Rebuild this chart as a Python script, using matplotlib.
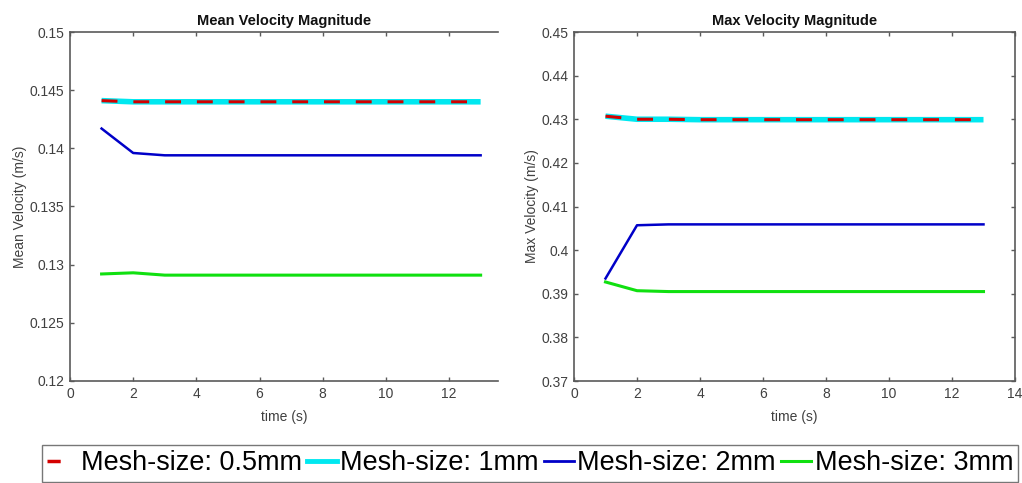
import matplotlib
matplotlib.use("Agg")
import matplotlib.pyplot as plt
from matplotlib.lines import Line2D

plt.rcParams['font.family'] = ['Liberation Sans', 'DejaVu Sans']

time = [1, 2, 3, 4, 5, 6, 7, 8, 9, 10, 11, 12, 13]

labels = ["Mesh-size: 0.5mm", "Mesh-size: 1mm", "Mesh-size: 2mm", "Mesh-size: 3mm"]

mean_05 = [0.1441, 0.1440, 0.1440, 0.1440, 0.1440, 0.1440, 0.1440, 0.1440, 0.1440, 0.1440, 0.1440, 0.1440, 0.1440]
mean_1 = [0.1441, 0.1440, 0.1440, 0.1440, 0.1440, 0.1440, 0.1440, 0.1440, 0.1440, 0.1440, 0.1440, 0.1440, 0.1440]
mean_2 = [0.1417, 0.1396, 0.1394, 0.1394, 0.1394, 0.1394, 0.1394, 0.1394, 0.1394, 0.1394, 0.1394, 0.1394, 0.1394]
mean_3 = [0.1292, 0.1293, 0.1291, 0.1291, 0.1291, 0.1291, 0.1291, 0.1291, 0.1291, 0.1291, 0.1291, 0.1291, 0.1291]

max_05 = [0.4307, 0.4300, 0.4300, 0.4299, 0.4299, 0.4299, 0.4299, 0.4299, 0.4299, 0.4299, 0.4299, 0.4299, 0.4299]
max_1 = [0.4307, 0.4300, 0.4300, 0.4299, 0.4299, 0.4299, 0.4299, 0.4299, 0.4299, 0.4299, 0.4299, 0.4299, 0.4299]
max_2 = [0.3935, 0.4057, 0.4059, 0.4059, 0.4059, 0.4059, 0.4059, 0.4059, 0.4059, 0.4059, 0.4059, 0.4059, 0.4059]
max_3 = [0.3927, 0.3907, 0.3905, 0.3905, 0.3905, 0.3905, 0.3905, 0.3905, 0.3905, 0.3905, 0.3905, 0.3905, 0.3905]

mean_yticks = [0.12, 0.125, 0.13, 0.135, 0.14, 0.145, 0.15]
mean_yticklabels = ["0.12", "0.125", "0.13", "0.135", "0.14", "0.145", "0.15"]
max_yticks = [0.37, 0.38, 0.39, 0.40, 0.41, 0.42, 0.43, 0.44, 0.45]
max_yticklabels = ["0.37", "0.38", "0.39", "0.4", "0.41", "0.42", "0.43", "0.44", "0.45"]
mean_xticks = [0, 2, 4, 6, 8, 10, 12]
max_xticks = [0, 2, 4, 6, 8, 10, 12, 14]

W, H = 1022, 483
fig = plt.figure(figsize=(W / 100, H / 100), dpi=100)

ax1 = fig.add_axes([70 / W, 1 - 381 / H, (498 - 70) / W, (381 - 32) / H])
ax2 = fig.add_axes([574 / W, 1 - 381 / H, (1015 - 574) / W, (381 - 32) / H])

RED = '#d40000'
CYAN = '#00e8f0'
BLUE = '#0000c8'
GREEN = '#10e010'
AXC = '#5a5a5a'
TXC = '#404040'


def draw(ax, s05, s1, s2, s3):
    ax.plot(time, s1, color=CYAN, lw=4.0, solid_capstyle='butt', zorder=2)
    ax.plot(time, s05, color=RED, lw=2.2, dashes=(5.2, 5.2), dash_capstyle='butt', zorder=3)
    ax.plot(time, s2, color=BLUE, lw=1.8, zorder=2)
    ax.plot(time, s3, color=GREEN, lw=2.2, zorder=2)


draw(ax1, mean_05, mean_1, mean_2, mean_3)
draw(ax2, max_05, max_1, max_2, max_3)

ax1.set_xlim(0, 13.55)
ax1.set_ylim(0.12, 0.15)
ax1.set_xticks(mean_xticks)
ax1.set_yticks(mean_yticks)
ax1.set_yticklabels(mean_yticklabels)
ax1.spines['right'].set_visible(False)

ax2.set_xlim(0, 14)
ax2.set_ylim(0.37, 0.45)
ax2.set_xticks(max_xticks)
ax2.set_yticks(max_yticks)
ax2.set_yticklabels(max_yticklabels)

for ax, right in ((ax1, False), (ax2, True)):
    for sp in ax.spines.values():
        sp.set_color(AXC)
        sp.set_linewidth(1.2)
    ax.tick_params(direction='in', length=3, width=1, color=AXC, labelcolor=TXC,
                   labelsize=10, top=True, right=right, pad=4)
    ax.set_xlabel('time (s)', fontsize=10, color=TXC, labelpad=7)

ax1.set_ylabel('Mean Velocity (m/s)', fontsize=10, color=TXC, labelpad=2)
ax2.set_ylabel('Max Velocity (m/s)', fontsize=10, color=TXC, labelpad=2)
ax1.set_title('Mean Velocity Magnitude', fontsize=10.5, fontweight='bold', color='#111111', pad=5)
ax2.set_title('Max Velocity Magnitude', fontsize=10.5, fontweight='bold', color='#111111', pad=5)

handles = [
    Line2D([], [], color=RED, lw=2.5, dashes=(3.8, 12)),
    Line2D([], [], color=CYAN, lw=3.5),
    Line2D([], [], color=BLUE, lw=2),
    Line2D([], [], color=GREEN, lw=2.2),
]
leg = fig.legend(handles, labels, loc='upper left', bbox_to_anchor=(42 / W, 1 - 445 / H),
                 ncol=4, frameon=True, fancybox=False, edgecolor='#555555',
                 handlelength=1.1, handletextpad=0.13, columnspacing=0.2,
                 borderpad=0.2, borderaxespad=0,
                 prop={'family': ['Liberation Sans', 'DejaVu Sans'], 'size': 19.45})
leg.get_frame().set_linewidth(1.0)

fig.savefig('out.png', dpi=100)
